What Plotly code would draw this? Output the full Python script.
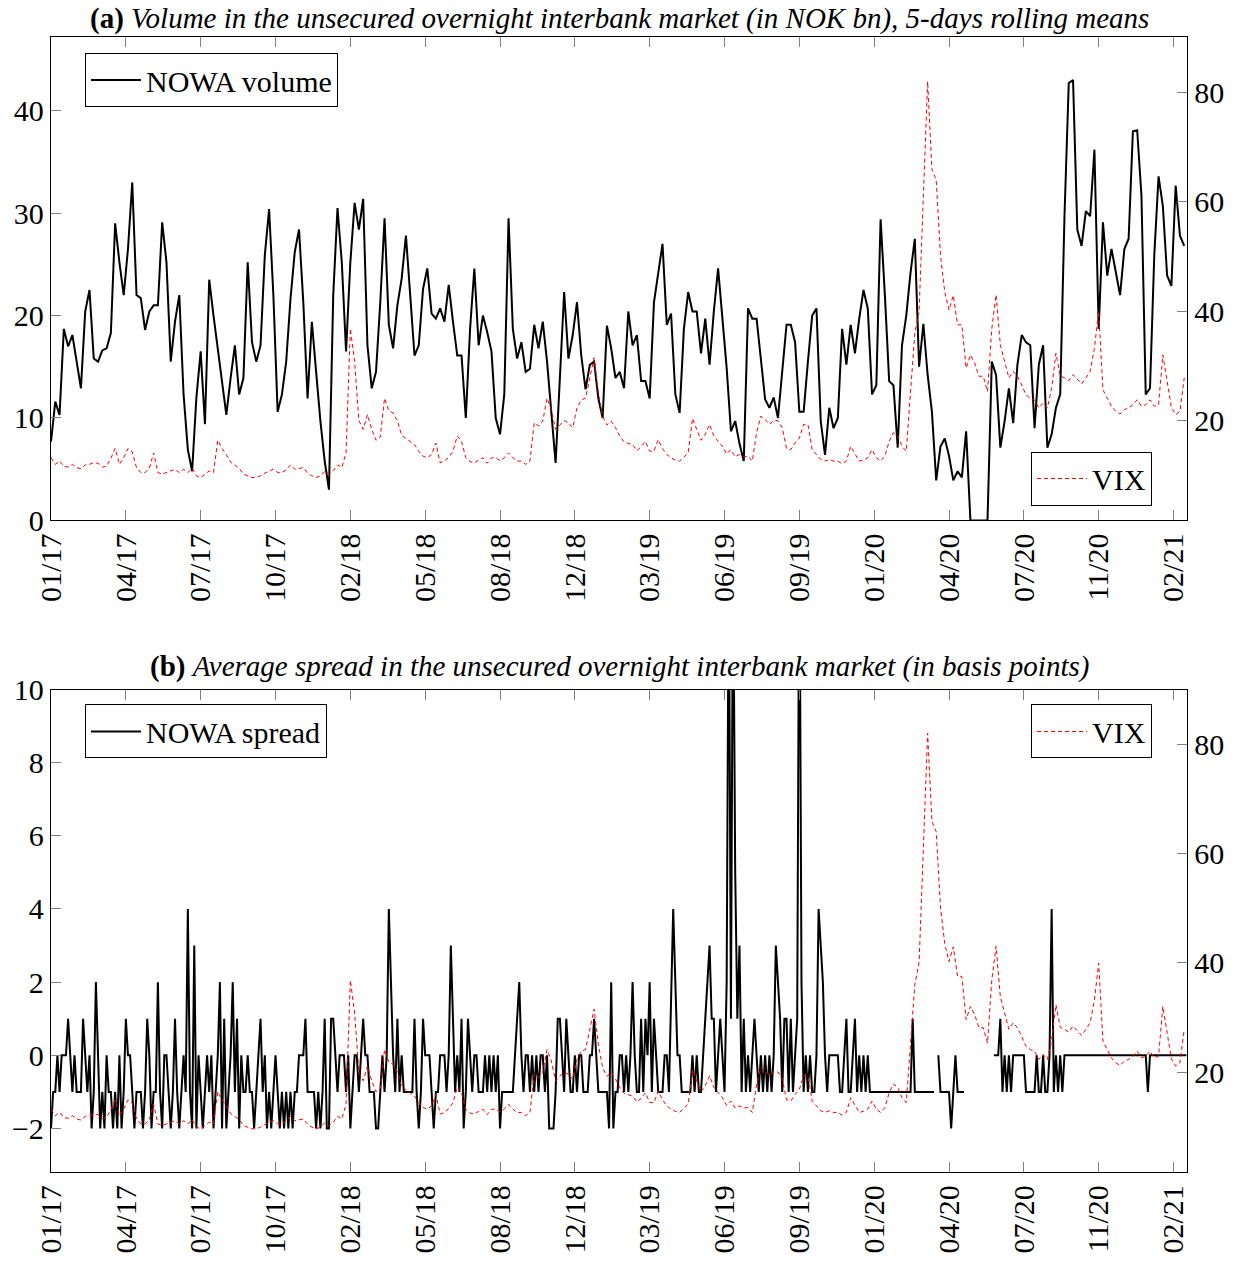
import plotly.graph_objects as go

# x positions are observation (business-day) indices; ticks every 70 obs
TICK_POS = [0, 70, 140, 210, 280, 350, 420, 490, 560, 630, 700, 770, 840, 910, 980, 1050]
TICK_LABELS = ["01/17", "04/17", "07/17", "10/17", "02/18", "05/18", "08/18", "12/18",
               "03/19", "06/19", "09/19", "01/20", "04/20", "07/20", "11/20", "02/21"]

# NOWA volume (NOK bn), 5-day rolling mean, every 4th observation
nowa_volume = [
    7.7, 11.6, 10.3, 18.7, 17.0, 18.1, 15.5, 12.9, 20.4, 22.5,
    15.8, 15.5, 16.6, 16.8, 18.3, 29.0, 25.2, 22.0, 26.5, 33.0,
    22.0, 21.7, 18.6, 20.4, 21.0, 21.0, 29.1, 25.2, 15.5, 19.4,
    22.0, 12.3, 6.9, 4.8, 12.0, 16.5, 9.4, 23.5, 20.0, 16.8,
    13.9, 10.3, 13.9, 17.1, 12.3, 13.9, 25.2, 17.4, 15.5, 17.1,
    25.9, 30.4, 22.0, 10.6, 12.3, 15.5, 21.6, 26.2, 28.4, 21.3,
    11.9, 19.4, 14.5, 9.7, 5.8, 3.0, 22.0, 30.5, 25.2, 16.5,
    25.2, 31.0, 28.4, 31.4, 17.1, 12.9, 14.5, 21.3, 29.5, 19.1,
    16.8, 21.0, 23.6, 27.8, 22.0, 16.1, 17.1, 22.6, 24.6, 20.2,
    19.7, 20.7, 19.4, 23.0, 19.4, 16.1, 16.1, 10.0, 18.7, 24.6,
    17.1, 20.0, 18.4, 16.5, 10.0, 8.4, 12.3, 29.5, 18.7, 15.8,
    17.4, 14.5, 14.8, 19.1, 16.8, 19.4, 15.5, 10.3, 5.6, 13.9,
    22.3, 15.8, 18.1, 21.3, 16.1, 12.8, 15.2, 15.5, 11.9, 10.0,
    19.0, 16.8, 13.9, 14.5, 12.9, 20.4, 17.1, 18.1, 13.6, 13.6,
    11.9, 21.3, 24.2, 27.0, 19.1, 20.2, 12.3, 10.5, 18.7, 22.3,
    20.4, 20.4, 16.3, 19.7, 15.2, 20.4, 24.6, 19.4, 14.9, 8.7,
    9.7, 7.5, 5.8, 20.7, 19.7, 19.7, 15.8, 11.8, 11.0, 12.0,
    10.0, 14.9, 19.1, 19.1, 17.4, 10.6, 10.6, 15.5, 20.0, 20.7,
    9.7, 6.4, 11.0, 9.0, 10.0, 18.7, 15.2, 19.1, 16.3, 19.7,
    22.5, 20.7, 12.3, 13.2, 29.4, 22.0, 13.6, 13.2, 7.1, 17.1,
    20.0, 24.2, 27.5, 15.0, 19.2, 14.2, 10.6, 3.9, 7.2, 8.0,
    6.3, 3.9, 4.8, 4.2, 8.7, 0.0, 0.0, 0.0, 0.0, 0.0,
    15.5, 14.2, 7.1, 9.7, 12.9, 9.5, 15.2, 18.1, 17.4, 17.1,
    9.0, 15.2, 17.1, 7.1, 8.4, 11.0, 12.3, 29.7, 42.7, 43.0,
    28.4, 26.8, 30.2, 29.7, 36.2, 18.7, 29.1, 23.9, 26.5, 24.2,
    22.0, 26.5, 27.5, 38.0, 38.1, 31.7, 12.3, 12.9, 25.9, 33.6,
    30.7, 23.9, 22.9, 32.7, 27.8, 26.8,
]

# VIX, every 4th observation (same series in both panels)
vix = [
    13.2, 12.0, 12.6, 11.7, 11.5, 12.0, 11.4, 11.2, 11.9, 12.0,
    12.3, 12.2, 11.5, 11.7, 13.1, 14.9, 12.0, 13.2, 14.9, 14.3,
    11.4, 10.5, 10.5, 11.3, 14.1, 10.5, 10.2, 10.5, 10.8, 11.1,
    10.5, 11.1, 10.5, 11.3, 9.9, 9.6, 10.2, 10.8, 10.5, 16.4,
    14.9, 13.8, 12.4, 11.9, 11.3, 10.2, 9.9, 9.6, 9.6, 9.9,
    10.4, 10.8, 11.1, 10.5, 10.5, 11.0, 11.9, 11.1, 11.3, 11.4,
    10.4, 9.9, 9.6, 9.9, 10.7, 10.2, 10.8, 11.9, 11.4, 14.1,
    36.8, 30.8, 20.0, 18.4, 21.1, 18.4, 16.4, 17.0, 24.1, 21.8,
    21.4, 20.0, 17.3, 16.7, 16.2, 15.6, 14.4, 13.5, 13.2, 13.8,
    15.9, 12.3, 12.6, 13.3, 14.4, 17.2, 16.2, 13.2, 12.5, 12.3,
    12.8, 13.2, 12.2, 13.2, 13.2, 12.7, 13.2, 14.1, 13.2, 12.6,
    12.6, 12.0, 12.6, 19.6, 19.0, 19.9, 24.1, 22.0, 18.4, 19.2,
    20.0, 19.6, 18.7, 22.3, 23.8, 24.1, 27.5, 31.5, 25.0, 20.8,
    19.2, 19.9, 18.7, 17.2, 16.1, 15.8, 15.6, 14.5, 15.2, 16.2,
    14.4, 14.4, 16.5, 14.9, 13.8, 13.2, 12.8, 12.6, 13.3, 14.1,
    20.4, 18.4, 16.4, 17.5, 19.3, 17.2, 16.2, 15.3, 13.9, 14.7,
    13.4, 13.8, 13.4, 13.5, 12.6, 17.8, 20.8, 20.2, 19.3, 20.0,
    20.0, 18.7, 14.9, 14.7, 15.9, 16.8, 19.3, 19.3, 14.7, 13.7,
    12.9, 12.6, 12.9, 12.6, 12.6, 12.1, 12.6, 15.3, 13.8, 12.6,
    12.8, 13.2, 14.7, 13.2, 12.6, 13.5, 16.2, 17.8, 17.2, 15.3,
    14.4, 25.9, 36.0, 40.0, 62.9, 82.0, 65.9, 64.0, 50.2, 43.5,
    40.2, 42.9, 37.5, 37.5, 29.6, 32.0, 30.5, 28.1, 28.1, 25.3,
    36.8, 43.0, 33.8, 30.8, 27.8, 29.0, 28.1, 26.5, 24.7, 24.1,
    23.8, 22.3, 23.2, 22.3, 25.9, 32.3, 28.2, 27.8, 27.3, 28.4,
    27.5, 26.7, 27.8, 29.0, 33.2, 39.9, 25.6, 24.1, 22.6, 21.7,
    21.2, 22.0, 22.3, 22.9, 23.8, 22.6, 22.9, 23.8, 22.6, 22.9,
    32.0, 27.2, 22.4, 21.1, 21.7, 27.8,
]

# NOWA spread (bp), every 2nd observation; None = no trades
nowa_spread = [
    -2, -1, -1, 0, -1, 0, 0, 0, 1, 0,
    -1, 0, -1, -1, -1, 1, 0, -1, 0, -2,
    -1, 2, 0, -2, -1, -2, 0, -1, -1, -2,
    -1, -2, 0, -2, -1, 1, 0, 0, -1, -2,
    -1, -1, -1, -2, -1, 1, 0, -2, -1, -1,
    2, -1, -2, 0, 0, -1, -2, -1, 1, -1,
    -2, -1, 0, -1, 4, -1, -2, 3, -2, 0,
    -1, -2, -1, 0, -1, 0, -2, -1, 0, 2,
    -2, 1, -2, -1, 0, 2, -1, 1, -2, 0,
    -1, -1, 0, -1, -1, -2, -1, 0, 1, -1,
    0, -2, -1, -2, -1, 0, -1, -2, -1, -2,
    -1, -2, -1, -2, -1, -1, 0, 0, 0, 1,
    -1, -1, -1, -1, -2, -1, -2, -1, 1, -2,
    -2, 1, 1, 0, -1, 0, 0, 0, -1, 0,
    -2, -1, 0, 0, -1, 0, 1, 0, 0, -1,
    -1, -1, -2, -2, -1, 0, -1, 0, 4, 2,
    0, -1, 1, -1, 0, -1, -1, -1, -1, -1,
    1, -1, -2, -1, 1, 0, 0, 0, -1, -2,
    -1, -1, 0, 0, 0, -1, 0, 3, 1, -1,
    0, -1, 1, -2, -1, 1, 0, -1, 0, 0,
    -1, -1, -1, 0, -1, 0, -1, 0, -1, 0,
    -2, -1, -1, -1, -1, -1, -1, 0, 1, 2,
    0, -1, 0, 0, -1, 0, -1, 0, -1, 0,
    0, -1, 0, -2, -2, -2, -1, 1, 1, 0,
    -1, 1, 0, -1, -1, 0, -1, 0, 0, -1,
    -1, -1, 0, 0, 1, 0, -1, -1, -1, -1,
    -1, -2, 2, -2, -1, -1, 0, 0, -1, 0,
    -1, 0, 2, 0, -1, -1, 1, -1, 1, 0,
    2, -1, 1, 0, -1, -1, -1, 0, 0, -1,
    2, 4, 2, 0, 0, -1, -1, -1, -1, -1,
    0, -1, 0, -1, -1, 0, 1, 2, 3, 1,
    1, -1, 0, 1, 0, -1, 2, 14, 1, 14,
    5, 1, 3, -1, 1, -1, 0, -1, 0, 1,
    0, -1, 0, -1, 0, -1, 0, -1, 0, 3,
    2, 1, -1, 1, 1, -1, 1, -1, 0, 1,
    15, 2, -1, 0, -1, 0, -1, -1, 0, 4,
    3, 2, 0, -1, 0, 0, 0, 0, 0, -1,
    -1, 0, 1, -1, -1, 0, 1, -1, 0, -1,
    0, -1, 0, -1, -1, -1, -1, -1, -1, -1,
    -1, -1, -1, -1, -1, -1, -1, -1, -1, -1,
    -1, -1, -1, 1, -1, -1, -1, -1, -1, -1,
    -1, -1, -1, -1, None, 0, -1, -1, -1, -1,
    -1, -2, -1, 0, -1, -1, -1, -1, None, None,
    None, None, None, None, None, None, None, None, None, None,
    None, 0, 0, 0, 1, -1, 0, -1, 0, -1,
    0, 0, 0, 0, 0, 0, -1, -1, -1, -1,
    -1, 0, -1, -1, 0, -1, -1, 0, 4, -1,
    0, -1, 0, -1, 0, 0, 0, 0, 0, 0,
    0, 0, 0, 0, 0, 0, 0, 0, 0, 0,
    0, 0, 0, 0, 0, 0, 0, 0, 0, 0,
    0, 0, 0, 0, 0, 0, 0, 0, 0, 0,
    0, 0, 0, -1, 0, 0, 0, 0, 0, 0,
    0, 0, 0, 0, 0, 0, 0, 0, 0, 0,
    0, 0,
]

obs_4 = list(range(0, 4 * len(nowa_volume), 4))
obs_2 = list(range(0, 2 * len(nowa_spread), 2))

FONT = "Liberation Serif"
X_RANGE = [0, 1062.6]

fig = go.Figure()

fig.add_trace(go.Scatter(
    x=obs_4, y=nowa_volume, mode="lines", name="NOWA volume",
    line=dict(color="black", width=2), xaxis="x", yaxis="y", legend="legend",
))
fig.add_trace(go.Scatter(
    x=obs_4, y=vix, mode="lines", name="VIX",
    line=dict(color="red", width=1, dash="4px,3px"), xaxis="x", yaxis="y2", legend="legend2",
))
fig.add_trace(go.Scatter(
    x=obs_2, y=nowa_spread, mode="lines", name="NOWA spread", connectgaps=False,
    line=dict(color="black", width=2), xaxis="x2", yaxis="y3", legend="legend3",
))
fig.add_trace(go.Scatter(
    x=obs_4, y=vix, mode="lines", name="VIX",
    line=dict(color="red", width=1, dash="4px,3px"), xaxis="x2", yaxis="y4", legend="legend4",
))

tick_font = dict(family=FONT, size=30, color="black")
x_common = dict(
    range=X_RANGE, tickmode="array", tickvals=TICK_POS, ticktext=TICK_LABELS,
    tickangle=-90, ticks="inside", ticklen=10, tickcolor="#808080",
    showline=True, linecolor="black", linewidth=1.3, mirror="ticks",
    showgrid=False, zeroline=False, tickfont=tick_font,
)
y_left = dict(
    ticks="inside", ticklen=10, tickcolor="#808080", showline=True,
    linecolor="black", linewidth=1.3, showgrid=False, zeroline=False, tickfont=tick_font,
)
y_right = dict(y_left, side="right")

legend_common = dict(
    bgcolor="white", bordercolor="black", borderwidth=1,
    font=dict(family=FONT, size=30, color="black"),
    xref="paper", yref="paper", itemwidth=50, tracegroupgap=0,
)

fig.update_layout(
    width=1236, height=1265,
    margin=dict(l=51, r=48, t=37, b=87),
    plot_bgcolor="white", paper_bgcolor="white",
    font=dict(family=FONT, color="black"),
    xaxis=dict(x_common, domain=[0, 1], anchor="y"),
    yaxis=dict(y_left, domain=[0.5741, 1], range=[0, 47.2], tickvals=[0, 10, 20, 30, 40], anchor="x"),
    yaxis2=dict(y_right, overlaying="y", range=[1.76, 90.1], tickvals=[20, 40, 60, 80], anchor="x"),
    xaxis2=dict(x_common, domain=[0, 1], anchor="y3"),
    yaxis3=dict(y_left, domain=[0, 0.4251], range=[-3.19, 10], tickvals=[-2, 0, 2, 4, 6, 8, 10], anchor="x2"),
    yaxis4=dict(y_right, overlaying="y3", range=[1.7, 90.0], tickvals=[20, 40, 60, 80], anchor="x2"),
    legend=dict(legend_common, x=0.0299, y=0.986, xanchor="left", yanchor="top"),
    legend2=dict(legend_common, x=0.9692, y=0.5872, xanchor="right", yanchor="bottom"),
    legend3=dict(legend_common, x=0.0299, y=0.4119, xanchor="left", yanchor="top"),
    legend4=dict(legend_common, x=0.9692, y=0.4119, xanchor="right", yanchor="top"),
    showlegend=True,
)

title_font = dict(family=FONT, size=29, color="black")
fig.add_annotation(
    x=0.5, y=1.0167, xref="paper", yref="paper", showarrow=False, font=title_font,
    xanchor="center", yanchor="middle",
    text="<b>(a)</b> <i>Volume in the unsecured overnight interbank market (in NOK bn), 5-days rolling means</i>",
)
fig.add_annotation(
    x=0.5, y=0.4452, xref="paper", yref="paper", showarrow=False, font=title_font,
    xanchor="center", yanchor="middle",
    text="<b>(b)</b> <i>Average spread in the unsecured overnight interbank market (in basis points)</i>",
)

# drop the default 8px page margin so the figure sits at the window origin
fig.write_html(
    "out.html",
    config={"displayModeBar": False},
    post_script="document.body.style.margin='0';",
)
